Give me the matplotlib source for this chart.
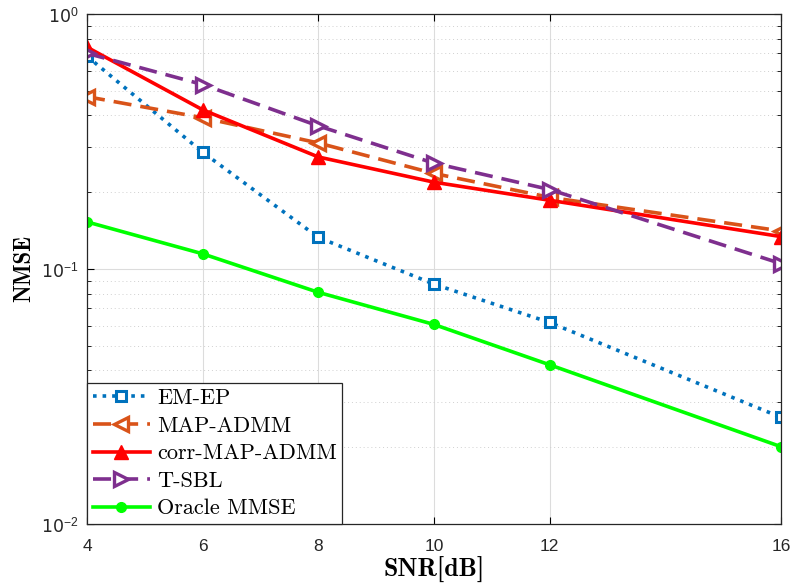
import matplotlib
matplotlib.use("Agg")
import matplotlib.pyplot as plt
import matplotlib.ticker as ticker

snr = [4, 6, 8, 10, 12, 16]
em_ep = [0.683, 0.287, 0.133, 0.0872, 0.0617, 0.0262]
map_admm = [0.474, 0.392, 0.312, 0.237, 0.191, 0.141]
corr_map_admm = [0.741, 0.421, 0.275, 0.219, 0.186, 0.134]
t_sbl = [0.701, 0.529, 0.364, 0.260, 0.205, 0.105]
oracle_mmse = [0.153, 0.1147, 0.081, 0.0606, 0.0421, 0.0201]
xticks = [4, 6, 8, 10, 12, 16]
yticks = [1e-2, 1e-1, 1e0]
ytick_labels = ["10$^{-2}$", "10$^{-1}$", "10$^{0}$"]

SERIF = ["cmr10", "Liberation Serif", "DejaVu Serif"]
SERIF_BOLD = ["cmb10", "Liberation Serif", "DejaVu Serif"]
SANS = ["Liberation Sans", "DejaVu Sans"]

plt.rcParams["mathtext.fontset"] = "custom"
plt.rcParams["mathtext.rm"] = "Liberation Sans"
plt.rcParams["mathtext.it"] = "Liberation Sans"
plt.rcParams["mathtext.default"] = "rm"

fig = plt.figure(figsize=(7.94, 5.87), dpi=100)
ax = fig.add_axes([87 / 794, 1 - 524 / 587, 694 / 794, 510 / 587])

lw = 2.6
ax.plot(snr, em_ep, ":", color="#0072BD", lw=lw, marker="s", ms=7,
        mfc="white", mec="#0072BD", mew=2.2, label="EM-EP")
ax.plot(snr, map_admm, "--", color="#D95319", lw=lw, marker="<", ms=10,
        mfc="white", mec="#D95319", mew=2.4, label="MAP-ADMM", dashes=(5, 2.5))
ax.plot(snr, corr_map_admm, "-", color="#FF0000", lw=lw, marker="^", ms=10,
        mfc="#FF0000", mec="#FF0000", label="corr-MAP-ADMM")
ax.plot(snr, t_sbl, "--", color="#7E2F8E", lw=lw, marker=">", ms=10,
        mfc="white", mec="#7E2F8E", mew=2.4, label="T-SBL", dashes=(5, 2.5))
ax.plot(snr, oracle_mmse, "-", color="#00FF00", lw=lw, marker="o", ms=7,
        mfc="#00FF00", mec="#00FF00", label="Oracle MMSE")

ax.set_yscale("log")
ax.set_xlim(4, 16)
ax.set_ylim(1e-2, 1e0)
ax.set_xticks(xticks)
ax.set_xticklabels([str(v) for v in xticks], family=SANS, fontsize=12.5, color="#262626")
ax.set_yticks(yticks)
ax.set_yticklabels(ytick_labels, fontsize=12.5, color="#262626")
ax.yaxis.set_minor_locator(ticker.LogLocator(base=10, subs=range(2, 10), numticks=20))
ax.yaxis.set_minor_formatter(ticker.NullFormatter())

ax.tick_params(which="both", direction="in", top=True, right=True)
ax.tick_params(which="major", length=5)
ax.tick_params(which="minor", length=3)
ax.tick_params(axis="x", pad=11)
ax.tick_params(axis="y", pad=6)
ax.grid(True, which="major", color="#dcdcdc", lw=0.8)
ax.grid(True, which="minor", axis="y", color="#d0d0d0", lw=0.7, ls=(0, (1, 3)))
ax.set_axisbelow(True)
for sp in ax.spines.values():
    sp.set_color("#262626")
    sp.set_linewidth(0.9)

ax.set_xlabel("SNR[dB]", family=SERIF_BOLD, fontsize=18.5, labelpad=2)
ax.set_ylabel("NMSE", family=SERIF_BOLD, fontsize=16.5, labelpad=4)

leg = ax.legend(loc="lower left", prop={"family": SERIF, "size": 16},
                fancybox=False, framealpha=1, edgecolor="#262626",
                borderaxespad=0, handlelength=2.6, labelspacing=0.36,
                borderpad=0.25, handletextpad=0.3)
leg.get_frame().set_linewidth(0.9)

fig.savefig("out.png", dpi=100)
